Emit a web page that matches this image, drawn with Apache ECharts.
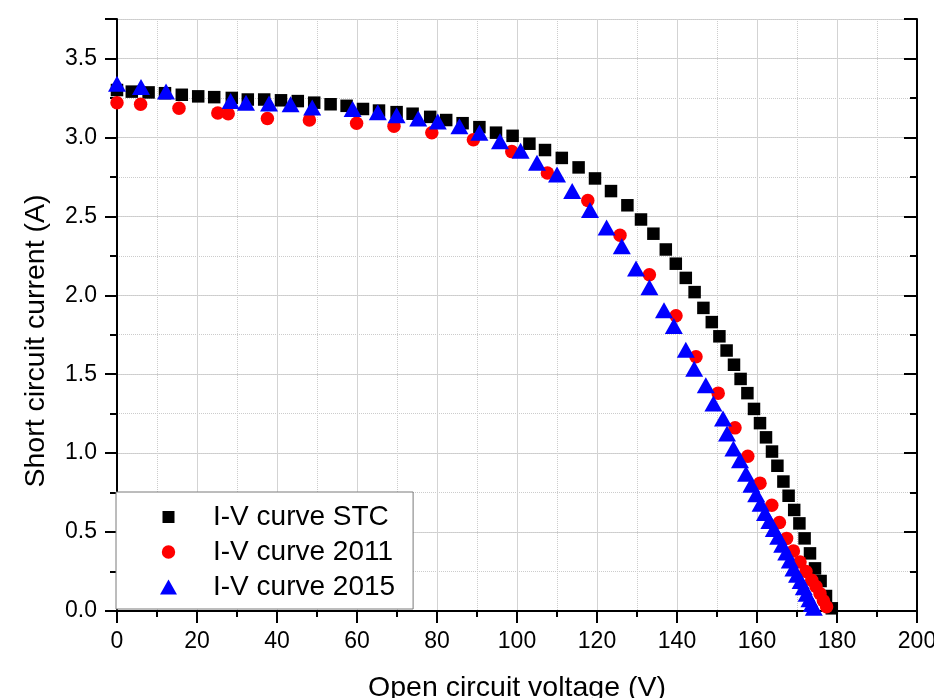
<!DOCTYPE html>
<html>
<head>
<meta charset="utf-8">
<script src="https://cdn.jsdelivr.net/npm/echarts@6/dist/echarts.min.js"></script>
<style>html,body{margin:0;padding:0;background:#fff;}#c{width:934px;height:698px;}</style>
</head>
<body>
<div id="c"></div>
<script>
// ---- data ----
const seriesNames = ['I-V curve STC', 'I-V curve 2011', 'I-V curve 2015'];

const stcV = [0, 3.7, 7.9, 12.0, 16.2, 20.3, 24.3, 28.7, 32.7, 36.8, 41.0, 45.2, 49.3, 53.4, 57.4, 61.5, 65.5, 69.9, 73.9, 78.3, 82.3, 86.4, 90.6, 94.75, 98.9, 103.1, 107.0, 111.2, 115.4, 119.5, 123.5, 127.6, 131.0, 134.1, 137.2, 139.7, 142.2, 144.4, 146.6, 148.7, 150.6, 152.4, 154.25, 155.9, 157.6, 159.25, 160.75, 162.25, 163.75, 165.1, 166.6, 167.9, 169.3, 170.6, 171.9, 173.25, 174.5, 175.9, 177.25, 178.7];
const stcI = [3.30, 3.29, 3.285, 3.28, 3.27, 3.26, 3.255, 3.25, 3.24, 3.24, 3.235, 3.23, 3.22, 3.21, 3.20, 3.18, 3.17, 3.16, 3.15, 3.13, 3.11, 3.09, 3.065, 3.03, 3.01, 2.96, 2.92, 2.87, 2.81, 2.74, 2.66, 2.57, 2.48, 2.39, 2.29, 2.20, 2.11, 2.02, 1.92, 1.83, 1.74, 1.65, 1.56, 1.47, 1.38, 1.28, 1.19, 1.10, 1.01, 0.92, 0.82, 0.73, 0.64, 0.555, 0.46, 0.365, 0.27, 0.19, 0.095, 0.017];

const v2011 = [0, 5.9, 15.5, 25.2, 27.8, 37.6, 48.1, 59.9, 69.25, 78.7, 89.1, 98.7, 107.6, 117.7, 125.75, 133.1, 139.75, 144.75, 150.3, 154.5, 157.7, 160.75, 163.7, 165.6, 167.4, 169.1, 170.75, 172.25, 173.7, 174.75, 175.75, 176.6, 177.4];
const i2011 = [3.22, 3.21, 3.185, 3.155, 3.15, 3.12, 3.11, 3.09, 3.07, 3.03, 2.985, 2.91, 2.775, 2.60, 2.38, 2.13, 1.87, 1.61, 1.38, 1.16, 0.98, 0.81, 0.67, 0.56, 0.46, 0.38, 0.31, 0.25, 0.195, 0.155, 0.11, 0.065, 0.027];

const v2015 = [0, 6, 12.25, 28.4, 32.25, 38, 43.4, 48.8, 58.9, 65.2, 69.9, 75.3, 80.2, 85.6, 90.6, 95.75, 100.9, 105, 110, 113.8, 118.25, 122.4, 126.2, 129.75, 133.1, 136.75, 139.2, 142.2, 144.3, 147.2, 149.1, 151.5, 152.5, 154.1, 155.75, 157.25, 158.6, 159.8, 160.9, 162.0, 163.1, 164.2, 165.3, 166.3, 167.3, 168.2, 169.1, 170.0, 170.9, 171.7, 172.4, 173.1, 173.7, 174.2];
const i2015 = [3.34, 3.32, 3.29, 3.23, 3.22, 3.215, 3.21, 3.19, 3.18, 3.16, 3.14, 3.12, 3.10, 3.07, 3.03, 2.975, 2.915, 2.84, 2.765, 2.66, 2.54, 2.43, 2.31, 2.17, 2.05, 1.905, 1.805, 1.655, 1.535, 1.43, 1.315, 1.22, 1.125, 1.03, 0.955, 0.87, 0.80, 0.74, 0.68, 0.62, 0.57, 0.52, 0.47, 0.42, 0.37, 0.32, 0.27, 0.23, 0.19, 0.15, 0.11, 0.075, 0.045, 0.02];

const xTitle = 'Open circuit voltage (V)';
const yTitle = 'Short circuit current (A)';

// ---- chart ----
const FONT = "'Liberation Sans', Arial, sans-serif";
const pairs = (xs, ys) => xs.map((x, k) => [x, ys[k]]);
const black = '#000';
const axisLine = { show: true, lineStyle: { color: black, width: 2 } };
const tickStyle = { color: black, width: 2 };

const chart = echarts.init(document.getElementById('c'), null, { renderer: 'canvas' });
chart.setOption({
  animation: false,
  backgroundColor: '#fff',
  textStyle: { fontFamily: FONT },
  grid: { left: 117, right: 17, top: 19, bottom: 87, containLabel: false, outerBoundsMode: 'none' },
  xAxis: [
    {
      type: 'value', position: 'bottom', min: 0, max: 200, interval: 20,
      axisLine: axisLine,
      axisTick: { show: true, length: 12, lineStyle: tickStyle },
      minorTick: { show: true, splitNumber: 2, length: 6, lineStyle: tickStyle },
      axisLabel: { fontSize: 23, color: black, margin: 19, fontFamily: FONT },
      splitLine: { show: true, lineStyle: { color: '#d3d3d3', width: 1 } },
      minorSplitLine: { show: true, lineStyle: { color: '#cccccc', width: 1, type: 'dotted' } },
      name: xTitle, nameLocation: 'middle', nameGap: 63,
      nameTextStyle: { fontSize: 28.5, color: black, fontFamily: FONT }
    },
    {
      type: 'value', position: 'top', min: 0, max: 200, interval: 20,
      axisLine: axisLine,
      axisTick: { show: true, inside: true, length: 12, lineStyle: tickStyle },
      minorTick: { show: true, splitNumber: 2, length: 6, lineStyle: tickStyle },
      axisLabel: { show: false },
      splitLine: { show: false }
    }
  ],
  yAxis: [
    {
      type: 'value', position: 'left', min: 0, max: 3.75, interval: 0.5,
      axisLine: axisLine,
      axisTick: { show: true, length: 12, lineStyle: tickStyle },
      axisLabel: {
        fontSize: 23, color: black, margin: 20, fontFamily: FONT,
        formatter: v => (Math.abs(v * 2 - Math.round(v * 2)) < 1e-6 ? v.toFixed(1) : '')
      },
      splitLine: { show: true, lineStyle: { color: '#d3d3d3', width: 1 } },
      name: yTitle, nameLocation: 'middle', nameGap: 66,
      nameTextStyle: { fontSize: 28.5, color: black, fontFamily: FONT, padding: [0, 52, 0, 0] }
    },
    {
      type: 'value', position: 'left', min: 0, max: 3.75, interval: 0.25,
      axisLine: { show: false },
      axisTick: { show: true, length: 7, lineStyle: tickStyle },
      axisLabel: { show: false },
      splitLine: { show: true, lineStyle: { color: '#cccccc', width: 1, type: 'dotted' } }
    },
    {
      type: 'value', position: 'right', min: 0, max: 3.75, interval: 0.5,
      axisLine: axisLine,
      axisTick: { show: true, inside: true, length: 13, lineStyle: tickStyle },
      axisLabel: { show: false },
      splitLine: { show: false }
    },
    {
      type: 'value', position: 'right', min: 0, max: 3.75, interval: 0.25,
      axisLine: { show: false },
      axisTick: { show: true, inside: true, length: 7, lineStyle: tickStyle },
      axisLabel: { show: false },
      splitLine: { show: false }
    }
  ],
  legend: {
    orient: 'vertical', left: 116, top: 492,
    padding: [11, 18, 8, 44],
    itemWidth: 17, itemHeight: 15, itemGap: 7,
    backgroundColor: '#fff', borderColor: '#7a7a7a', borderWidth: 1, borderRadius: 0,
    textStyle: { fontSize: 28, color: black, fontFamily: FONT, lineHeight: 28, padding: [0, 0, 0, 31] },
    data: [
      { name: seriesNames[0], icon: 'path://M0,0M17,15M2.5,1.5L14.5,1.5L14.5,13.5L2.5,13.5Z' },
      { name: seriesNames[1], icon: 'path://M0,0M17,15M8.5,0.8A6.7,6.7,0,1,1,8.5,14.2A6.7,6.7,0,1,1,8.5,0.8Z' },
      { name: seriesNames[2], icon: 'path://M0,0M17,15M8.5,0L17,15L0,15Z' }
    ]
  },
  series: [
    {
      name: seriesNames[0], type: 'scatter', xAxisIndex: 0, yAxisIndex: 0,
      symbol: 'rect', symbolSize: 12.5, clip: false,
      itemStyle: { color: '#000000', opacity: 1 },
      data: pairs(stcV, stcI)
    },
    {
      name: seriesNames[1], type: 'scatter', xAxisIndex: 0, yAxisIndex: 0,
      symbol: 'circle', symbolSize: 13.5, clip: false,
      itemStyle: { color: '#ff0000', opacity: 1 },
      data: pairs(v2011, i2011)
    },
    {
      name: seriesNames[2], type: 'scatter', xAxisIndex: 0, yAxisIndex: 0,
      symbol: 'triangle', symbolSize: [18, 16], clip: false,
      itemStyle: { color: '#0000ff', opacity: 1 },
      data: pairs(v2015, i2015)
    }
  ]
});
</script>
</body>
</html>
